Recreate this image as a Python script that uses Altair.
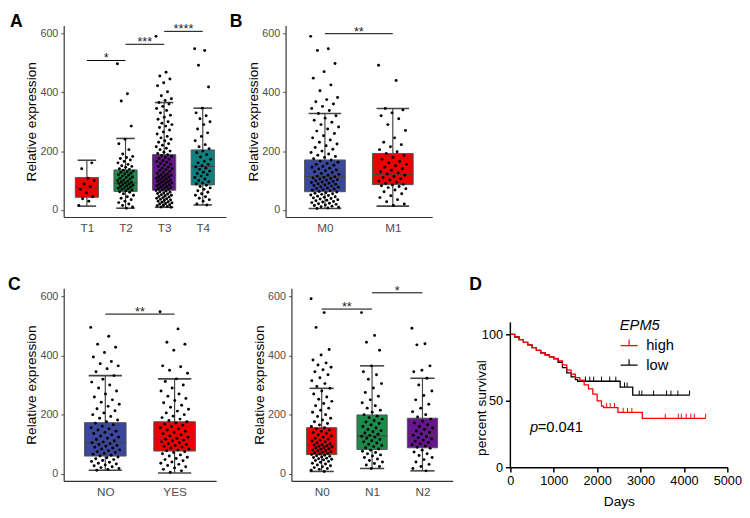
import json
import pandas as pd
import altair as alt

FONT = "Liberation Sans"

# ---------------- Panel A : T stage ----------------
A_cats = ["T1", "T2", "T3", "T4"]
A_colors = ["#ec0000", "#1b8a4b", "#64168a", "#0f7f7f"]
A_q1 = [43, 63, 67, 85]
A_med = [76, 91, 118, 148]
A_q3 = [110, 136, 188, 204]
A_lo = [13, 6, 9, 17]
A_hi = [169, 243, 365, 346]
T1 = [15, 30, 38, 45, 58, 70, 80, 88, 100, 108, 140, 160]
T2 = [497, 395, 370, 285, 240, 225, 205, 190, 182, 178, 175, 170, 165, 160, 155, 150, 148, 145,
      140, 138, 135, 132, 130, 128, 125, 122, 120, 118, 115, 112, 110, 108, 105, 102, 100, 98, 96,
      94, 92, 90, 88, 86, 84, 82, 80, 78, 76, 74, 72, 70, 68, 65, 62, 60, 55, 50, 45, 40, 35, 30,
      25, 20, 15, 10, 6]
T3 = [590, 468, 455, 445, 432, 422, 402, 388, 378, 372, 365, 360, 352, 345, 338, 330, 322, 315,
      308, 300, 295, 290, 285, 280, 272, 265, 258, 250, 245, 240, 235, 230, 225, 220, 215, 210,
      205, 200, 196, 192, 188, 185, 182, 178, 175, 172, 168, 165, 162, 158, 155, 152, 148, 145,
      142, 140, 137, 134, 131, 128, 125, 122, 120, 118, 116, 114, 112, 110, 108, 106, 104, 102,
      100, 98, 96, 94, 92, 90, 88, 86, 84, 82, 80, 78, 76, 74, 72, 70, 68, 66, 64, 62, 60, 58, 56,
      54, 52, 50, 48, 46, 44, 42, 40, 38, 36, 34, 32, 30, 28, 26, 24, 22, 20, 18, 16, 14, 12, 10, 9]
T4 = [548, 542, 492, 418, 346, 330, 320, 310, 300, 290, 275, 262, 250, 235, 222, 215, 208, 200,
      195, 188, 180, 172, 165, 160, 155, 150, 146, 142, 138, 132, 128, 124, 120, 115, 110, 105,
      100, 96, 92, 88, 84, 80, 75, 70, 65, 60, 55, 50, 45, 40, 35, 30, 20, 17]
A_sig_from = [1, 2, 3]
A_sig_to = [2, 3, 4]
A_sig_y = [508, 563, 607]
A_sig_lab = ["*", "***", "****"]

# ---------------- Panel B : M stage ----------------
B_cats = ["M0", "M1"]
B_colors = ["#3a479a", "#ec0000"]
B_q1 = [62, 86]
B_med = [113, 122]
B_q3 = [170, 192]
B_lo = [5, 13]
B_hi = [328, 345]
M0 = [590, 548, 542, 498, 470, 448, 425, 405, 382, 375, 368, 360, 352, 345, 338, 328, 320, 312,
      305, 298, 290, 282, 275, 268, 260, 252, 245, 238, 230, 224, 218, 212, 206, 200, 195, 190,
      186, 182, 178, 174, 170, 166, 162, 158, 155, 152, 148, 145, 142, 139, 136, 133, 130, 127,
      124, 121, 118, 115, 113, 111, 109, 107, 105, 103, 101, 99, 97, 95, 93, 91, 89, 87, 85, 83,
      81, 79, 77, 75, 73, 71, 69, 67, 65, 63, 61, 59, 57, 55, 53, 51, 49, 47, 45, 43, 41, 39, 37,
      35, 33, 31, 29, 27, 25, 23, 21, 19, 17, 15, 13, 11, 9, 7, 5]
M1 = [492, 440, 345, 340, 330, 320, 310, 290, 270, 245, 230, 222, 215, 205, 198, 192, 185, 178,
      172, 165, 160, 155, 150, 145, 140, 135, 130, 126, 122, 118, 114, 110, 106, 102, 98, 94, 90,
      87, 85, 82, 80, 76, 72, 68, 62, 55, 48, 42, 35, 28, 20, 15]
B_sig_from = [1]
B_sig_to = [2]
B_sig_y = [599]
B_sig_lab = ["**"]

# ---------------- Panel C : metastasis NO / YES ----------------
C_cats = ["NO", "YES"]
C_colors = ["#3a479a", "#ec0000"]
C_q1 = [60, 77]
C_med = [105, 116]
C_q3 = [173, 176]
C_lo = [12, 3]
C_hi = [332, 321]
NO = [495, 465, 438, 428, 410, 395, 380, 372, 365, 355, 345, 332, 320, 310, 300, 290, 280, 270,
      260, 250, 242, 235, 228, 220, 213, 206, 200, 194, 188, 182, 176, 171, 166, 161, 156, 152,
      148, 144, 140, 136, 132, 128, 124, 120, 116, 112, 108, 105, 102, 99, 96, 93, 90, 87, 84, 81,
      78, 75, 72, 69, 66, 63, 60, 57, 54, 51, 48, 45, 42, 39, 36, 33, 30, 27, 24, 21, 18, 15, 12]
YES = [548, 490, 445, 438, 418, 365, 362, 350, 340, 321, 312, 300, 290, 280, 270, 262, 255, 248,
       240, 232, 225, 218, 212, 206, 200, 195, 190, 185, 180, 176, 172, 168, 164, 160, 156, 152,
       148, 144, 140, 136, 132, 128, 124, 120, 117, 114, 111, 108, 105, 102, 99, 96, 93, 90, 87,
       84, 81, 78, 75, 72, 68, 64, 60, 56, 52, 48, 44, 40, 36, 32, 28, 24, 20, 15, 10, 5]
C_sig_from = [1]
C_sig_to = [2]
C_sig_y = [540]
C_sig_lab = ["**"]

# ---------------- Panel C2 : N stage ----------------
N_cats = ["N0", "N1", "N2"]
N_colors = ["#ec0000", "#1b8a4b", "#64168a"]
N_q1 = [65, 82, 88]
N_med = [96, 128, 130]
N_q3 = [156, 199, 188]
N_lo = [8, 18, 10]
N_hi = [289, 365, 323]
N0 = [592, 545, 495, 420, 402, 385, 375, 368, 360, 352, 345, 335, 325, 315, 305, 295, 289, 280,
      270, 260, 252, 245, 238, 230, 222, 215, 208, 200, 194, 188, 182, 176, 170, 165, 160, 156,
      152, 148, 144, 140, 136, 132, 128, 124, 120, 117, 114, 111, 108, 105, 102, 99, 97, 95, 93,
      91, 89, 87, 85, 83, 81, 79, 77, 75, 73, 71, 69, 67, 65, 63, 61, 59, 57, 55, 53, 51, 49, 47,
      45, 42, 39, 36, 33, 30, 27, 24, 21, 18, 15, 12, 8]
N1 = [545, 468, 445, 418, 365, 345, 335, 320, 305, 290, 275, 262, 250, 240, 230, 222, 215, 208,
      200, 195, 190, 185, 180, 175, 170, 165, 160, 155, 150, 146, 142, 138, 134, 130, 127, 124,
      120, 116, 112, 108, 104, 100, 96, 92, 88, 84, 80, 76, 72, 68, 64, 60, 55, 50, 45, 40, 35,
      30, 25, 18]
N2 = [492, 440, 436, 365, 350, 345, 323, 300, 280, 265, 250, 235, 222, 210, 200, 192, 185, 178,
      172, 166, 160, 155, 150, 145, 140, 135, 130, 126, 122, 118, 114, 110, 106, 102, 98, 94, 90,
      86, 80, 74, 68, 62, 55, 48, 40, 32, 25, 18, 10]
N_sig_from = [1, 2]
N_sig_to = [2, 3]
N_sig_y = [557, 612]
N_sig_lab = ["**", "*"]

# ---------------- Panel D : Kaplan-Meier ----------------
high_t = [0, 100, 200, 300, 400, 500, 600, 700, 800, 900, 1000, 1100, 1200, 1300, 1400, 1500,
          1600, 1700, 1800, 1900, 2000, 2100, 2150, 2480, 3040, 4500]
high_s = [100, 98, 96, 94, 92, 90, 88, 86, 84.5, 83, 82, 80, 77, 73, 70, 67.5, 65.5, 62, 59, 55,
          50, 46, 44.8, 41.2, 36.8, 36.8]
low_t = [0, 100, 200, 300, 400, 500, 600, 700, 800, 900, 1000, 1100, 1200, 1300, 1400, 1500,
         1550, 2530, 2820, 4130]
low_s = [100, 98, 96, 94, 92, 90, 88, 86, 84.5, 83, 81.5, 79, 75, 71, 68, 66, 64.7, 60.3, 54.2,
         54.2]
high_cens_t = [2220, 2300, 2400, 2600, 2700, 2800, 3570, 3870, 3940, 4050, 4160, 4240, 4500]
high_cens_s = [44.8, 44.8, 44.8, 41.2, 41.2, 41.2, 36.8, 36.8, 36.8, 36.8, 36.8, 36.8, 36.8]
low_cens_t = [1730, 1830, 1920, 2100, 2290, 2430, 2630, 2690, 2970, 3030, 3300, 3600, 3700, 3860, 4130]
low_cens_s = [64.7, 64.7, 64.7, 64.7, 64.7, 64.7, 60.3, 60.3, 54.2, 54.2, 54.2, 54.2, 54.2, 54.2, 54.2]
groups = ["high", "low"]
group_colors = ["#ff0000", "#000000"]
D_y_ticks = [0, 50, 100]
D_x_ticks = [0, 1000, 2000, 3000, 4000, 5000]
D_axis_top = 109

Y_DOMAIN = [-24, 627]
LETTER_SIZE = 18


def box_panel(cats, colors, q1, med, q3, lo, hi, pts, sfrom, sto, sy, slab,
              letter, ldx, ldy, width, height, xdom, letter_color="black"):
    n = len(cats)
    box = pd.DataFrame({"i": list(range(1, n + 1)), "color": colors, "q1": q1, "med": med,
                        "q3": q3, "lo": lo, "hi": hi})
    rows = []
    for k, vals in enumerate(pts):
        for j, v in enumerate(vals):
            rows.append({"i": k + 1, "j": j, "v": v})
    pdf = pd.DataFrame(rows)
    sig = pd.DataFrame({"a": sfrom, "b": sto, "y": sy, "lab": slab})

    xs = alt.Scale(domain=xdom, nice=False, zero=False)
    ys = alt.Scale(domain=Y_DOMAIN, nice=False, zero=False)
    xaxis = alt.Axis(values=list(range(1, n + 1)),
                     labelExpr=json.dumps([""] + cats) + "[datum.value]",
                     title=None, grid=False, ticks=False, domainColor="#333333",
                     domainWidth=1.2, labelColor="#4d4d4d", labelFontSize=12,
                     labelPadding=6, labelFont=FONT)
    yaxis = alt.Axis(values=[0, 200, 400, 600], title="Relative expression", grid=False,
                     tickColor="#555555", tickSize=3, domainColor="#333333", domainWidth=1.2,
                     labelColor="#4d4d4d", labelFontSize=11, labelPadding=3, labelFont=FONT,
                     titleFont=FONT, titleFontSize=14, titleFontWeight="normal",
                     titleColor="black", titlePadding=1)

    def X(f):
        return alt.X(f, type="quantitative", scale=xs, axis=xaxis)

    def Y(f):
        return alt.Y(f, type="quantitative", scale=ys, axis=yaxis)

    bb = alt.Chart(box).transform_calculate(
        bl="datum.i - 0.3", br="datum.i + 0.3", cl="datum.i - 0.24", cr="datum.i + 0.24")
    whisk = bb.mark_rule(color="#444444", strokeWidth=1.2).encode(x=X("i"), y=Y("lo"), y2="hi")
    cap_hi = bb.mark_rule(color="#444444", strokeWidth=1.6).encode(x=X("cl"), x2="cr", y=Y("hi"))
    cap_lo = bb.mark_rule(color="#444444", strokeWidth=1.6).encode(x=X("cl"), x2="cr", y=Y("lo"))
    rect = bb.mark_rect(stroke="#555555", strokeWidth=1).encode(
        x=X("bl"), x2="br", y=Y("q1"), y2="q3", fill=alt.Fill("color:N", scale=None))
    median = bb.mark_rule(color="#444444", strokeWidth=1.2).encode(x=X("bl"), x2="br", y=Y("med"))
    points = alt.Chart(pdf).transform_calculate(
        xj="datum.i + ((datum.j * 0.6180339887) % 1 - 0.5) * 0.42"
    ).mark_circle(size=9, color="black", opacity=1).encode(x=X("xj"), y=Y("v"))
    sig_lines = alt.Chart(sig).mark_rule(color="black", strokeWidth=1).encode(
        x=X("a"), x2="b", y=Y("y"))
    stars = alt.Chart(sig).transform_calculate(m="(datum.a + datum.b) / 2").mark_text(
        fontSize=13, dy=-2, font=FONT, color="#222222").encode(x=X("m"), y=Y("y"), text="lab:N")
    let = alt.Chart(pd.DataFrame({"t": [letter]})).mark_text(
        fontSize=LETTER_SIZE, fontWeight="bold", font=FONT, align="left", baseline="alphabetic",
        color=letter_color).encode(x=alt.value(ldx), y=alt.value(ldy), text="t:N")
    return alt.layer(whisk, cap_hi, cap_lo, rect, median, points, sig_lines, stars, let).properties(
        width=width, height=height)


pA = box_panel(A_cats, A_colors, A_q1, A_med, A_q3, A_lo, A_hi, [T1, T2, T3, T4],
               A_sig_from, A_sig_to, A_sig_y, A_sig_lab, "A", -55, 2, 166, 196, [0.4, 4.6])
pB = box_panel(B_cats, B_colors, B_q1, B_med, B_q3, B_lo, B_hi, [M0, M1],
               B_sig_from, B_sig_to, B_sig_y, B_sig_lab, "B", -57, 2, 150, 196, [0.42, 2.58])
pC = box_panel(C_cats, C_colors, C_q1, C_med, C_q3, C_lo, C_hi, [NO, YES],
               C_sig_from, C_sig_to, C_sig_y, C_sig_lab, "C", -57, 2, 156, 197, [0.4, 2.6])
pN = box_panel(N_cats, N_colors, N_q1, N_med, N_q3, N_lo, N_hi, [N0, N1, N2],
               N_sig_from, N_sig_to, N_sig_y, N_sig_lab, "C", -60, 2, 165, 197, [0.4, 3.6],
               letter_color="white")

# ---- KM panel ----
km = pd.DataFrame({"t": high_t + low_t, "s": high_s + low_s,
                   "grp": ["high"] * len(high_t) + ["low"] * len(low_t)})
cens_h = pd.DataFrame({"t": high_cens_t, "s": high_cens_s})
cens_l = pd.DataFrame({"t": low_cens_t, "s": low_cens_s})

D_H = 183  # plot area spans from the row top to the x axis
dx_scale = alt.Scale(domain=[0, 5000], nice=False, zero=False)
dy_scale = alt.Scale(domain=[0, 134.6], nice=False, zero=False)
dxaxis = alt.Axis(values=D_x_ticks, format="d", labelOverlap=False, labelFlush=False,
                  title="Days", grid=False,
                  tickColor="black", tickSize=5, tickWidth=1.5, domainColor="black",
                  domainWidth=1.5, labelColor="black", labelFontSize=13, labelFont=FONT,
                  labelPadding=3, titleFont=FONT, titleFontSize=14, titleFontWeight="normal",
                  titleColor="black", titlePadding=7)
dyaxis = alt.Axis(values=D_y_ticks, format="d", labelOverlap=False, labelFlush=False,
                  title="percent survival",
                  grid=False, domain=False,
                  tickColor="black", tickSize=5, tickWidth=1.5,
                  labelColor="black", labelFontSize=13, labelFont=FONT,
                  labelPadding=3, titleFont=FONT, titleFontSize=14, titleFontWeight="normal",
                  titleColor="black", titleX=-22, titleY=122)
color = alt.Color("grp:N", scale=alt.Scale(domain=groups, range=group_colors),
                  legend=alt.Legend(orient="none", legendX=112, legendY=31, title="EPM5",
                                    titleFontStyle="italic", titleFontWeight="normal",
                                    titleFontSize=15, titleFont=FONT, titleColor="black",
                                    labelFontSize=15, labelFont=FONT, labelColor="black",
                                    symbolType="M-1,0H1M0,0V-0.7", symbolSize=300,
                                    symbolStrokeWidth=1.2, labelOffset=8, rowPadding=2,
                                    titlePadding=3))

DX = lambda f: alt.X(f, type="quantitative", scale=dx_scale, axis=dxaxis)
DY = lambda f: alt.Y(f, type="quantitative", scale=dy_scale, axis=dyaxis)

yline = alt.Chart(pd.DataFrame({"a": [0], "b": [D_axis_top]})).mark_rule(
    color="black", strokeWidth=1.5).encode(x=alt.value(0), y=DY("a"), y2="b:Q")
km_low = alt.Chart(km).transform_filter("datum.grp == 'low'").mark_line(
    interpolate="step-after", strokeWidth=1.3).encode(x=DX("t"), y=DY("s"), color=color)
km_high = alt.Chart(km).transform_filter("datum.grp == 'high'").mark_line(
    interpolate="step-after", strokeWidth=1.3).encode(x=DX("t"), y=DY("s"), color=color)
tick_l = alt.Chart(cens_l).transform_calculate(s2="datum.s + 3.5").mark_rule(
    color="black", strokeWidth=1).encode(x=DX("t"), y=DY("s"), y2="s2:Q")
tick_h = alt.Chart(cens_h).transform_calculate(s2="datum.s + 3.5").mark_rule(
    color="#ff0000", strokeWidth=1).encode(x=DX("t"), y=DY("s"), y2="s2:Q")
p_it = alt.Chart(pd.DataFrame({"t": ["p"]})).mark_text(
    fontSize=15, fontStyle="italic", font=FONT, align="left", baseline="middle").encode(
    x=alt.value(20), y=alt.value(142), text="t:N")
p_val = alt.Chart(pd.DataFrame({"t": ["=0.041"]})).mark_text(
    fontSize=15, font=FONT, align="left", baseline="middle").encode(
    x=alt.value(28), y=alt.value(142), text="t:N")
letD = alt.Chart(pd.DataFrame({"t": ["D"]})).mark_text(
    fontSize=LETTER_SIZE, fontWeight="bold", font=FONT, align="left", baseline="alphabetic").encode(
    x=alt.value(-42), y=alt.value(2), text="t:N")
pD = alt.layer(yline, km_low, km_high, tick_l, tick_h, p_it, p_val, letD).properties(
    width=222, height=D_H)

top = alt.hconcat(pA, pB, spacing=4)
bottom = alt.hconcat(pC, pN, pD, spacing=17).resolve_scale(color="independent").resolve_legend(
    color="independent")
chart = alt.vconcat(top, bottom, spacing=44).resolve_scale(color="independent").resolve_legend(
    color="independent").properties(
    padding={"left": 0, "top": 0, "right": 0, "bottom": 0}
).configure(font=FONT).configure_view(strokeWidth=0, stroke="transparent")

chart.save("out.html", embed_options={"renderer": "svg", "actions": False})
